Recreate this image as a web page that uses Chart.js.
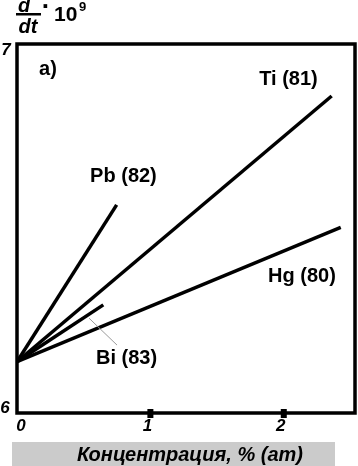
<!DOCTYPE html>
<html><head><meta charset="utf-8">
<script src="https://cdn.jsdelivr.net/npm/chart.js@4/dist/chart.umd.min.js"></script>
<style>html,body{margin:0;padding:0;background:#fff;overflow:hidden}canvas{display:block}</style>
</head><body>
<canvas id="c" width="358" height="466"></canvas>
<script>
// ---- data ----
const seriesNames = ['Ti (81)', 'Pb (82)', 'Hg (80)', 'Bi (83)'];
const xTi = [0, 2.359]; const yTi = [6.139, 6.859];
const xPb = [0, 0.747]; const yPb = [6.139, 6.564];
const xHg = [0, 2.427]; const yHg = [6.139, 6.503];
const xBi = [0, 0.647]; const yBi = [6.139, 6.293];
const xTickValues = [0, 1, 2];
const xTickLabels = ['0', '1', '2'];
const yTickValues = [6, 7];
const yTickLabels = ['6', '7'];
const xTitle = 'Концентрация, % (ат)';
const panelLabel = 'а)';
// label anchors in data units (centre x, baseline y)
const labelAnchorX = [2.035, 0.798, 2.136, 0.821];
const labelAnchorY = [6.889, 6.626, 6.355, 6.133];

const toPts = (xs, ys) => xs.map((v, i) => ({x: v, y: ys[i]}));
const seriesX = [xTi, xPb, xHg, xBi];
const seriesY = [yTi, yPb, yHg, yBi];

const FONT = '"Liberation Sans", Arial, sans-serif';

const deco = {
  id: 'deco',
  afterDatasetsDraw(chart) {
    const {ctx, chartArea: a, scales: {x, y}} = chart;
    ctx.save();
    // Bi leader line
    ctx.strokeStyle = '#9a9a9a'; ctx.lineWidth = 1;
    ctx.beginPath();
    ctx.moveTo(x.getPixelForValue(0.540), y.getPixelForValue(6.257));
    ctx.lineTo(x.getPixelForValue(0.750), y.getPixelForValue(6.184));
    ctx.stroke();
    // frame
    ctx.strokeStyle = '#000'; ctx.lineWidth = 3.5;
    ctx.strokeRect(a.left, a.top, a.right - a.left, a.bottom - a.top);
    // tick marks (not at 0)
    ctx.fillStyle = '#000';
    xTickValues.forEach(v => {
      if (v === 0) return;
      const px = x.getPixelForValue(v);
      ctx.fillRect(px - 3, a.bottom - 4, 6, 9);
    });
    // x tick labels
    ctx.font = 'italic bold 17px ' + FONT;
    ctx.textAlign = 'center'; ctx.textBaseline = 'alphabetic';
    xTickValues.forEach((v, i) => {
      const px = x.getPixelForValue(v) + (v === 0 ? 4 : -3);
      ctx.fillText(xTickLabels[i], px, a.bottom + 18);
    });
    // y tick labels
    ctx.fillText(yTickLabels[0], 5, y.getPixelForValue(yTickValues[0]));
    ctx.fillText(yTickLabels[1], 6, y.getPixelForValue(yTickValues[1]) + 11);
    // series labels
    ctx.font = 'bold 20px ' + FONT;
    seriesNames.forEach((n, i) => {
      ctx.fillText(n, x.getPixelForValue(labelAnchorX[i]), y.getPixelForValue(labelAnchorY[i]));
    });
    // panel label
    ctx.textAlign = 'left';
    ctx.fillText(panelLabel, x.getPixelForValue(0.165), y.getPixelForValue(6.915));
    // x title box
    ctx.fillStyle = '#cbcbcb';
    ctx.fillRect(12, a.bottom + 29, 323, 24);
    ctx.fillStyle = '#000';
    ctx.font = 'italic bold 20px ' + FONT;
    ctx.textAlign = 'center';
    ctx.fillText(xTitle, 190, a.bottom + 48);
    // y title: d/dt · 10^9
    ctx.font = 'italic bold 20px ' + FONT;
    ctx.fillText('d', 24, 12);
    ctx.fillText('dt', 28, 33);
    ctx.fillRect(16, 13, 25, 2.5);
    ctx.font = 'bold 26px ' + FONT;
    ctx.textAlign = 'center';
    ctx.fillText('·', 46, 15);
    ctx.font = 'bold 21px ' + FONT;
    ctx.textAlign = 'left';
    ctx.fillText('10', 54, 21);
    ctx.font = 'bold 13px ' + FONT;
    ctx.fillText('9', 79, 11);
    ctx.restore();
  }
};

new Chart(document.getElementById('c'), {
  type: 'line',
  data: {
    datasets: seriesNames.map((n, i) => ({
      label: n,
      data: toPts(seriesX[i], seriesY[i]),
      borderColor: '#000',
      borderWidth: 3.5,
      pointRadius: 0,
      fill: false,
      tension: 0
    }))
  },
  options: {
    responsive: false,
    devicePixelRatio: 1,
    animation: false,
    layout: {padding: {left: 17, top: 44, right: 3, bottom: 53}},
    plugins: {legend: {display: false}, tooltip: {enabled: false}},
    scales: {
      x: {type: 'linear', min: 0, max: 2.534, display: false},
      y: {type: 'linear', min: 6, max: 7, display: false}
    }
  },
  plugins: [deco]
});
</script>
</body></html>
